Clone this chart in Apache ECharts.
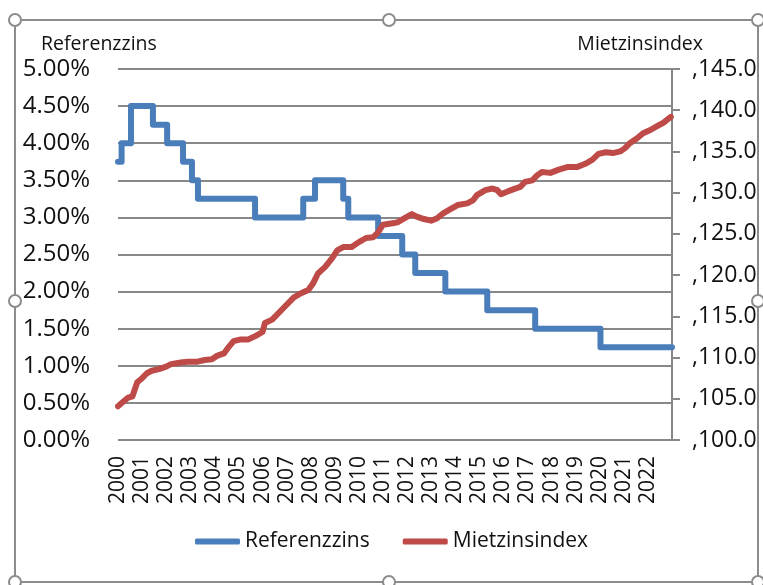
<!DOCTYPE html>
<html>
<head>
<meta charset="utf-8">
<script src="https://cdn.jsdelivr.net/npm/echarts@6/dist/echarts.min.js"></script>
<style>
  html, body { margin: 0; padding: 0; background: #fff; }
  #chart { width: 763px; height: 585px; }
</style>
</head>
<body>
<div id="chart"></div>
<script>
// Referenzzins (%), change points of the step line
const zinsYears = [2000.0, 2000.15, 2000.54, 2001.45, 2002.04, 2002.7, 2003.07, 2003.32, 2005.69,
  2007.69, 2008.18, 2009.35, 2009.56, 2010.8, 2011.8, 2012.34, 2013.59, 2015.33, 2017.32, 2020.03, 2023.0];
const zinsValues = [3.75, 4.0, 4.5, 4.25, 4.0, 3.75, 3.5, 3.25, 3.0,
  3.25, 3.5, 3.25, 3.0, 2.75, 2.5, 2.25, 2.0, 1.75, 1.5, 1.25, 1.25];

// Mietzinsindex
const mietYears = [2000.0, 2000.2, 2000.4, 2000.6, 2000.8, 2001.0, 2001.2, 2001.4, 2001.7, 2002.0,
  2002.2, 2002.6, 2002.9, 2003.3, 2003.6, 2003.9, 2004.1, 2004.4, 2004.6, 2004.8,
  2005.1, 2005.4, 2005.7, 2006.0, 2006.1, 2006.4, 2006.9, 2007.3, 2007.6, 2007.9,
  2008.1, 2008.3, 2008.6, 2008.9, 2009.1, 2009.35, 2009.7, 2010.0, 2010.3, 2010.6,
  2010.8, 2011.0, 2011.4, 2011.6, 2011.9, 2012.2, 2012.4, 2012.7, 2013.0, 2013.25,
  2013.5, 2013.8, 2014.1, 2014.5, 2014.75, 2014.9, 2015.25, 2015.55, 2015.75, 2015.9,
  2016.15, 2016.4, 2016.7, 2016.9, 2017.2, 2017.4, 2017.6, 2017.95, 2018.3, 2018.65,
  2019.05, 2019.4, 2019.7, 2019.95, 2020.25, 2020.55, 2020.85, 2021.05, 2021.25, 2021.55,
  2021.8, 2022.1, 2022.4, 2022.65, 2022.95];
const mietValues = [104.1, 104.6, 105.1, 105.3, 107.0, 107.5, 108.1, 108.4, 108.6, 108.9,
  109.2, 109.4, 109.5, 109.5, 109.7, 109.8, 110.2, 110.5, 111.3, 112.0,
  112.2, 112.2, 112.6, 113.1, 114.2, 114.6, 116.1, 117.3, 117.8, 118.2,
  119.0, 120.2, 121.0, 122.1, 123.0, 123.4, 123.4, 124.0, 124.5, 124.6,
  125.2, 126.1, 126.3, 126.4, 126.9, 127.4, 127.1, 126.8, 126.6, 126.9,
  127.5, 128.0, 128.5, 128.7, 129.1, 129.7, 130.3, 130.5, 130.3, 129.8,
  130.1, 130.4, 130.7, 131.3, 131.5, 132.1, 132.5, 132.4, 132.8, 133.1,
  133.1, 133.5, 134.0, 134.7, 134.9, 134.8, 135.0, 135.4, 136.0, 136.6,
  137.2, 137.6, 138.1, 138.5, 139.2];

const yearTicks = [2000, 2023];
const zinsAxis = [0, 5, 0.5];
const mietAxis = [100, 145, 5];

const font = 'Open Sans';
const textColor = '#111';
const gridColor = '#888';

const zinsData = zinsYears.map((y, i) => [y, zinsValues[i]]);
const mietData = mietYears.map((y, i) => [y, mietValues[i]]);

const chart = echarts.init(document.getElementById('chart'), null, { renderer: 'canvas' });

const handles = [[15, 20], [389, 20], [758, 20], [15, 301], [758, 301], [15, 582], [389, 582], [758, 582]];

const option = {
  animation: false,
  backgroundColor: '#fff',
  textStyle: { fontFamily: font, color: textColor },
  title: [
    { text: 'Referenzzins', left: 36, top: 29,
      textStyle: { fontFamily: font, fontSize: 19.5, fontWeight: 'normal', color: textColor } },
    { text: 'Mietzinsindex', right: 55, top: 29,
      textStyle: { fontFamily: font, fontSize: 19.5, fontWeight: 'normal', color: textColor } }
  ],
  legend: {
    top: 526,
    left: 190,
    icon: 'roundRect',
    itemWidth: 45,
    itemHeight: 6,
    itemGap: 33,
    textStyle: { fontFamily: font, fontSize: 21, color: textColor },
    data: ['Referenzzins', 'Mietzinsindex']
  },
  grid: { left: 118, right: 91, top: 69, bottom: 145, containLabel: false },
  xAxis: {
    type: 'value',
    min: yearTicks[0],
    max: yearTicks[1],
    interval: 1,
    axisLine: { show: false },
    axisTick: { show: false },
    splitLine: { show: false },
    axisLabel: {
      rotate: 90,
      margin: 16,
      fontFamily: font,
      fontSize: 21,
      color: textColor,
      formatter: v => (v < yearTicks[1] ? String(v) : '')
    }
  },
  yAxis: [
    {
      type: 'value',
      min: zinsAxis[0],
      max: zinsAxis[1],
      interval: zinsAxis[2],
      axisLine: { show: false },
      axisTick: { show: false },
      splitLine: { show: true, lineStyle: { color: gridColor, width: 2 } },
      axisLabel: {
        margin: 28,
        fontFamily: font,
        fontSize: 24,
        color: textColor,
        formatter: v => v.toFixed(2) + '%'
      }
    },
    {
      type: 'value',
      position: 'right',
      min: mietAxis[0],
      max: mietAxis[1],
      interval: mietAxis[2],
      axisLine: { show: true, lineStyle: { color: gridColor, width: 2 } },
      axisTick: { show: true, inside: false, length: 8, lineStyle: { color: gridColor, width: 2 } },
      splitLine: { show: false },
      axisLabel: {
        margin: 20,
        fontFamily: font,
        fontSize: 23,
        color: textColor,
        formatter: v => ',' + v.toFixed(1)
      }
    }
  ],
  series: [
    {
      name: 'Referenzzins',
      type: 'line',
      yAxisIndex: 0,
      step: 'end',
      showSymbol: false,
      data: zinsData,
      itemStyle: { color: '#4a7ebb' },
      lineStyle: { color: '#4a7ebb', width: 6, cap: 'round', join: 'round' }
    },
    {
      name: 'Mietzinsindex',
      type: 'line',
      yAxisIndex: 1,
      showSymbol: false,
      data: mietData,
      itemStyle: { color: '#be4b48' },
      lineStyle: { color: '#be4b48', width: 6, cap: 'round', join: 'round' }
    }
  ],
  graphic: [
    {
      type: 'rect',
      shape: { x: 15, y: 20, width: 743, height: 562 },
      style: { fill: 'none', stroke: '#8c8c8c', lineWidth: 2 },
      silent: true
    }
  ].concat(handles.map(([x, y]) => ({
    type: 'circle',
    shape: { cx: x, cy: y, r: 6 },
    style: { fill: '#fff', stroke: '#8c8c8c', lineWidth: 2 },
    silent: true,
    z: 10
  })))
};

chart.setOption(option);
</script>
</body>
</html>
